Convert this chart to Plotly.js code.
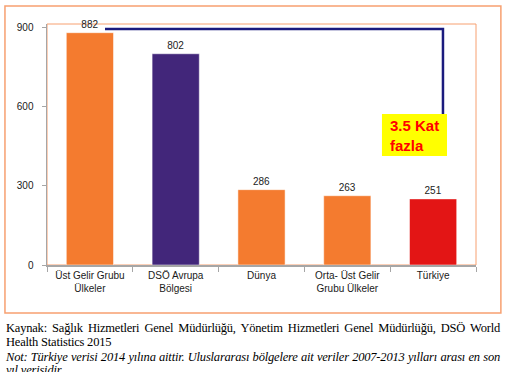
<!DOCTYPE html>
<html><head><meta charset="utf-8">
<script src="https://cdn.plot.ly/plotly-3.0.1.min.js"></script>
<style>
body{margin:0;background:#fff;}
#wrap{position:relative;width:506px;height:386px;overflow:hidden;}
#chart{position:absolute;left:0;top:0;width:506px;height:386px;}
.cap{position:absolute;left:6px;width:494px;font-family:"Liberation Serif","Times New Roman",serif;font-size:12.5px;letter-spacing:-0.2px;line-height:12px;height:12px;color:#000;white-space:nowrap;}
.just{text-align:justify;text-align-last:justify;}
</style></head>
<body>
<div id="wrap">
<div id="chart"></div>
<div class="cap just" style="top:322px;">Kaynak: Sağlık Hizmetleri Genel Müdürlüğü, Yönetim Hizmetleri Genel Müdürlüğü, DSÖ World</div>
<div class="cap" style="top:336px;">Health Statistics 2015</div>
<div class="cap just" style="top:351px;font-style:italic;">Not: Türkiye verisi 2014 yılına aittir. Uluslararası bölgelere ait veriler 2007-2013 yılları arası en son</div>
<div class="cap" style="top:364px;height:8px;overflow:hidden;font-style:italic;">yıl verisidir</div>
</div>
<script>
const categories = ["Üst Gelir Grubu<br>Ülkeler", "DSÖ Avrupa<br>Bölgesi", "Dünya", "Orta- Üst Gelir<br>Grubu Ülkeler", "Türkiye"];
const values = [882, 802, 286, 263, 251];
const barColors = ["#F47B2F", "#42267A", "#F47B2F", "#F47B2F", "#E31515"];
const tickValues = [0, 300, 600, 900];
const calloutText = "3.5 Kat<br>fazla";

const trace = {
  type: "bar",
  x: categories,
  y: values,
  marker: {color: barColors, line: {color: "rgba(255,255,255,0.5)", width: 1}},
  text: values.map(String),
  textposition: "outside",
  cliponaxis: false,
  textfont: {family: "Liberation Sans, Arial, sans-serif", size: 10, color: "#222"},
  hoverinfo: "none"
};

const lineY = values[0] + 14;
const layout = {
  width: 506, height: 386,
  margin: {l: 47, r: 30, t: 24, b: 121, pad: 0},
  paper_bgcolor: "#fff", plot_bgcolor: "#fff",
  showlegend: false,
  bargap: 0.45,
  font: {family: "Liberation Sans, Arial, sans-serif", size: 10, color: "#222"},
  xaxis: {
    type: "category", showgrid: false, zeroline: false,
    showline: true, linecolor: "#A6A6A6", linewidth: 1.5,
    ticks: "outside", ticklen: 5, tickcolor: "#A6A6A6", tickson: "boundaries",
    tickfont: {family: "Liberation Sans, Arial, sans-serif", size: 10, color: "#1a1a1a"},
    range: [-0.5, 4.5], fixedrange: true
  },
  yaxis: {
    range: [0, 915], tickvals: tickValues, ticktext: tickValues.map(String),
    showgrid: false, zeroline: false,
    showline: true, linecolor: "#A6A6A6", linewidth: 1.5,
    ticks: "outside", ticklen: 4, tickcolor: "#A6A6A6",
    tickfont: {family: "Liberation Sans, Arial, sans-serif", size: 10, color: "#1a1a1a"},
    ticklabelstandoff: 6, fixedrange: true
  },
  shapes: [
    {type: "rect", xref: "paper", yref: "paper", x0: -0.098, x1: 1.058, y0: -0.199, y1: 1.075,
     line: {color: "#F7A070", width: 1.5}, fillcolor: "rgba(0,0,0,0)", layer: "below"},
    {type: "rect", xref: "paper", yref: "paper", x0: 0, x1: 1, y0: 0, y1: 1,
     line: {color: "#F7A070", width: 1}, fillcolor: "rgba(0,0,0,0)", layer: "below"},
    {type: "path", xref: "x", yref: "y",
     path: "M 0.176," + lineY + " L 4.115," + lineY + " L 4.115,573",
     line: {color: "#1B1B7E", width: 2.5}},
    {type: "rect", xref: "x", yref: "y", x0: 3.404, x1: 4.162, y0: 414, y1: 573,
     fillcolor: "#FFFF00", line: {width: 0}}
  ],
  annotations: [
    {x: 3.474, y: 493, xref: "x", yref: "y", xanchor: "left", yanchor: "middle", align: "left",
     text: calloutText, showarrow: false,
     font: {family: "Liberation Sans, Arial, sans-serif", size: 15, color: "#FF0000", weight: "bold"}}
  ]
};

Plotly.newPlot("chart", [trace], layout, {displayModeBar: false, staticPlot: true});
</script>
</body></html>
